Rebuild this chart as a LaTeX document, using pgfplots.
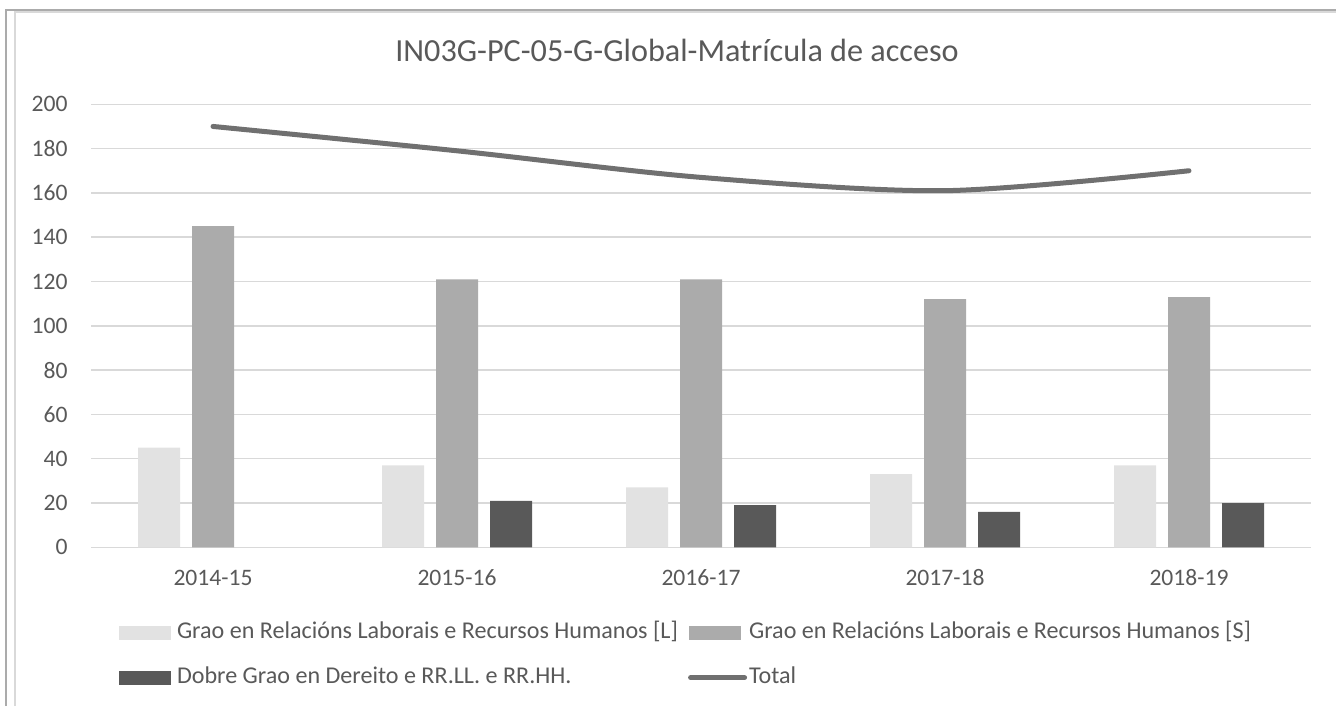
\documentclass[border=0pt]{standalone}
\usepackage{pgfplots}
\pgfplotsset{compat=1.18}
\usepackage{fontspec}
\setmainfont{Carlito}
\definecolor{txt}{HTML}{595959}
\definecolor{gridc}{HTML}{D9D9D9}
\definecolor{cL}{HTML}{E2E2E2}
\definecolor{cS}{HTML}{ABABAB}
\definecolor{cD}{HTML}{595959}
\definecolor{cT}{HTML}{707070}
\begin{document}
\begin{tikzpicture}[x=1pt,y=1pt]
\useasboundingbox (0,0) rectangle (668,353);
% frame
\draw[color=gridc, line width=1pt] (7.25,0) -- (7.25,346.8) -- (668,346.8);
\draw[color=cS, line width=1pt] (3,0) -- (3,348) -- (668,348);
\node[anchor=base, text=txt, font=\fontsize{16.1}{19}\selectfont, inner sep=0pt] at (338.5,322) {IN03G-PC-05-G-Global-Matrícula de acceso};
\begin{axis}[
  at={(45.5pt,79.35pt)}, anchor=south west,
  scale only axis, width=610pt, height=221.5pt,
  xmin=-0.5, xmax=4.5, ymin=0, ymax=200,
  ytick={0,20,...,200},
  xtick={0,1,2,3,4},
  xticklabels={2014-15,2015-16,2016-17,2017-18,2018-19},
  ymajorgrids, grid style={color=gridc, line width=0.75pt},
  axis x line*=bottom, axis y line*=left,
  x axis line style={color=gridc, line width=0.75pt, -},
  y axis line style={draw=none},
  major tick length=0pt,
  tick style={draw=none},
  /pgf/number format/assume math mode=true,
  ticklabel style={font=\fontsize{11.8}{14}\selectfont, text=txt},
  yticklabel style={inner sep=0pt, xshift=-11.5pt},
  xticklabel style={inner sep=0pt, anchor=base, yshift=-19.2pt},
  ybar, bar width=21pt,
  legend columns=2,
  legend cell align=left,
  legend style={at={(0.02295,-0.167)}, anchor=north west, draw=none, fill=none,
    inner sep=0pt, outer sep=0pt, row sep=11.1pt,
    font=\fontsize{12.05}{14}\selectfont, text=txt,
    nodes={inner sep=0pt, text height=8.8pt, text depth=2.6pt},
    /tikz/every even column/.append style={column sep=5pt}},
]
\addplot[fill=cL, draw=none, bar shift=-27pt,
  legend image code/.code={\fill[cL] (0pt,-3.5pt) rectangle (26pt,3.5pt); \path (29pt,0pt);}]
  coordinates {(0,45) (1,37) (2,27) (3,33) (4,37)};
\addlegendentry{Grao en Relacións Laborais e Recursos Humanos [L]}
\addplot[fill=cS, draw=none, bar shift=0pt,
  legend image code/.code={\fill[cS] (0pt,-3.5pt) rectangle (26pt,3.5pt); \path (29pt,0pt);}]
  coordinates {(0,145) (1,121) (2,121) (3,112) (4,113)};
\addlegendentry{Grao en Relacións Laborais e Recursos Humanos [S]}
\addplot[fill=cD, draw=none, bar shift=27pt,
  legend image code/.code={\fill[cD] (0pt,-3.5pt) rectangle (26pt,3.5pt); \path (29pt,0pt);}]
  coordinates {(1,21) (2,19) (3,16) (4,20)};
\addlegendentry{Dobre Grao en Dereito e RR.LL. e RR.HH.}
\addplot[sharp plot, smooth, color=cT, line width=2.5pt, line cap=round, mark=none,
  legend image code/.code={\draw[cT, line width=2.5pt, line cap=round] (1pt,0pt) -- (28pt,0pt); \path (29pt,0pt);}]
  coordinates {(0,190) (1,179) (2,167) (3,161) (4,170)};
\addlegendentry{Total}
\end{axis}
\end{tikzpicture}
\end{document}
